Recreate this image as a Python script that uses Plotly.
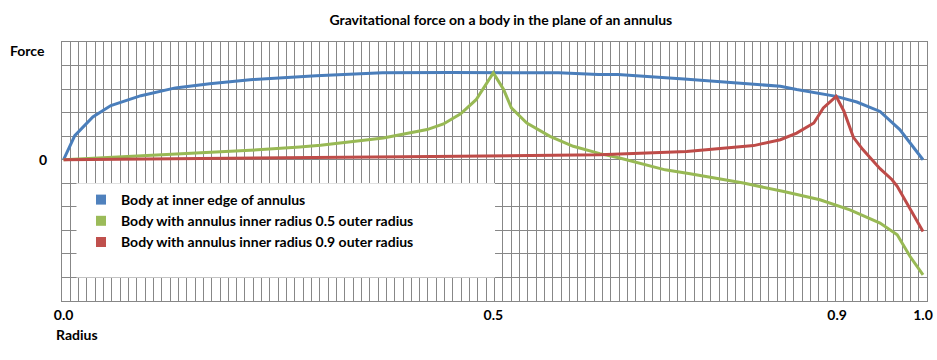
import plotly.graph_objects as go

# ---- data ----
blue_r = [0, 0.013, 0.034, 0.055, 0.09, 0.13, 0.17, 0.217, 0.294, 0.371, 0.45, 0.5, 0.576,
          0.622, 0.645, 0.722, 0.799, 0.834, 0.853, 0.899, 0.923, 0.95, 0.973, 1.0]
blue_f = [0, 1.02, 1.82, 2.30, 2.72, 3.05, 3.23, 3.40, 3.57, 3.69, 3.70, 3.70, 3.69,
          3.62, 3.62, 3.43, 3.23, 3.12, 2.98, 2.69, 2.45, 2.05, 1.28, 0]

green_r = [0, 0.12, 0.217, 0.275, 0.299, 0.372, 0.423, 0.442, 0.462, 0.48, 0.5, 0.512, 0.521,
           0.539, 0.566, 0.593, 0.624, 0.647, 0.70, 0.729, 0.791, 0.838, 0.88, 0.915, 0.95,
           0.97, 0.985, 1.0]
green_f = [0, 0.21, 0.40, 0.54, 0.61, 0.92, 1.28, 1.52, 1.95, 2.55, 3.69, 2.98, 2.20,
           1.56, 0.99, 0.57, 0.26, 0.07, -0.43, -0.60, -0.99, -1.35, -1.70, -2.13, -2.69,
           -3.19, -4.11, -4.89]

red_r = [0, 0.15, 0.275, 0.43, 0.624, 0.725, 0.803, 0.834, 0.853, 0.873, 0.884, 0.899,
         0.908, 0.919, 0.93, 0.95, 0.964, 0.97, 1.0]
red_f = [0, 0.04, 0.08, 0.14, 0.21, 0.35, 0.60, 0.85, 1.13, 1.56, 2.20, 2.69,
         2.06, 0.95, 0.43, -0.38, -0.85, -1.13, -3.05]

series_names = ["Body at inner edge of annulus",
                "Body with annulus inner radius 0.5 outer radius",
                "Body with annulus inner radius 0.9 outer radius"]
line_colors = ["#4A7EBB", "#98B954", "#BE4B48"]
legend_colors = ["#4F81BD", "#9BBB59", "#C0504D"]

x_tickvals = [0, 0.5, 0.9, 1.0]
x_ticktext = ["0.0", "0.5", "0.9", "1.0"]
y_gridvals = list(range(-6, 6))
y_ticktext = ["0" if v == 0 else "" for v in y_gridvals]

FONT = "Lato, 'Liberation Sans', sans-serif"
FS = 14
GRID = "#878787"

fig = go.Figure()
for r, f, c, n in zip([blue_r, green_r, red_r], [blue_f, green_f, red_f], line_colors, series_names):
    fig.add_trace(go.Scatter(x=r, y=f, mode="lines", line=dict(color=c, width=3),
                             name=n, showlegend=False, hoverinfo="skip"))
for c, n in zip(legend_colors, series_names):
    fig.add_trace(go.Scatter(x=[None], y=[None], mode="markers",
                             marker=dict(symbol="square", size=10, color=c, line=dict(width=0)),
                             name=n, showlegend=True))

x_lo, x_hi = -0.00186, 1.00465
fig.update_layout(
    width=937, height=360, autosize=False,
    margin=dict(l=62, r=10, t=42, b=59, autoexpand=False),
    paper_bgcolor="white", plot_bgcolor="white",
    font=dict(family=FONT, size=FS, color="black", weight="bold"),
    title=dict(text="Gravitational force on a body in the plane of an annulus",
               x=0.5345, xref="container", xanchor="center",
               y=1 - 20 / 360, yref="container", yanchor="middle",
               font=dict(family=FONT, size=FS, weight="bold")),
    xaxis=dict(range=[x_lo, x_hi], tickmode="array", tickvals=x_tickvals, ticktext=x_ticktext,
               showgrid=False, zeroline=False, ticks="", ticklabelstandoff=1,
               showline=True, linecolor=GRID, linewidth=1, mirror=True,
               minor=dict(tickmode="linear", tick0=x_lo, dtick=(x_hi - x_lo) / 104,
                          showgrid=True, gridcolor=GRID, gridwidth=1, ticks=""),
               tickfont=dict(family=FONT, size=FS, weight="bold")),
    yaxis=dict(range=[-6, 5], tickmode="array", tickvals=y_gridvals, ticktext=y_ticktext,
               showgrid=True, gridcolor=GRID, gridwidth=1, zeroline=False, ticks="",
               ticklabelstandoff=11,
               showline=True, linecolor=GRID, linewidth=1, mirror=True,
               tickfont=dict(family=FONT, size=FS, weight="bold")),
    legend=dict(x=(81 - 62) / 865, y=(301 - 184) / 259, xanchor="left", yanchor="top",
                bgcolor="rgba(0,0,0,0)", borderwidth=0, itemwidth=30,
                font=dict(family=FONT, size=FS, weight="bold"), tracegroupgap=0),
    showlegend=True,
)

fig.add_shape(type="rect", xref="x", yref="y", x0=0.015, x1=0.502, y0=-5, y1=-1,
              fillcolor="white", line=dict(width=0), layer="between")

fig.add_annotation(text="Force", xref="paper", yref="paper", x=(27 - 62) / 865,
                   y=(301 - 50.7) / 259, showarrow=False, xanchor="center", yanchor="middle",
                   font=dict(family=FONT, size=FS, weight="bold"))
fig.add_annotation(text="Radius", xref="paper", yref="paper", x=(76.7 - 62) / 865,
                   y=(301 - 334) / 259, showarrow=False, xanchor="center", yanchor="middle",
                   font=dict(family=FONT, size=FS, weight="bold"))

fig.write_html("out.html", config={"displayModeBar": False},
               post_script="document.body.style.margin='0';document.body.style.overflow='hidden';")
